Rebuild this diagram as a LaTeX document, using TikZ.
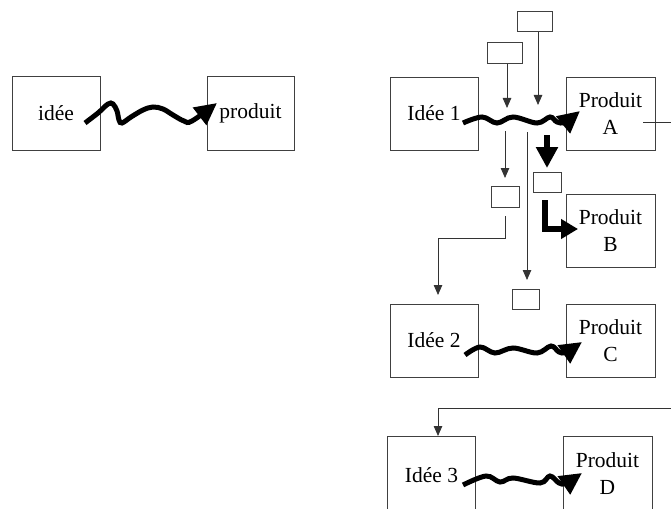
\documentclass[tikz,border=0pt]{standalone}
\usepackage{fontspec}
\setmainfont{Liberation Serif}
\usetikzlibrary{arrows.meta}
\begin{document}
\begin{tikzpicture}[x=1pt,y=-1pt,
  box/.style={draw=black!75, line width=0.9pt, inner sep=0pt, minimum width=88pt, minimum height=73pt, align=center, font=\fontsize{21.5}{27}\selectfont},
  tag/.style={draw=black!75, line width=0.9pt, inner sep=0pt, minimum width=#1, minimum height=20.5pt},
  thinarrow/.style={draw=black!80, line width=0.8pt, -{Triangle[length=10pt,width=8.5pt]}},
  wave/.style={line width=5pt, -{Triangle[length=22pt,width=21pt]}},
  fatarrow/.style={line width=6.5pt, -{Triangle[length=21pt,width=21pt]}},
]
\clip (0,0) rectangle (671,508);
\fill[white] (0,0) rectangle (671,508);

% left pair
\node[box, minimum height=74pt] (idee) at (56,113) {idée};
\node[box, minimum width=87pt, minimum height=74pt] (produit) at (250.5,113) {produit};

% right column
\node[box] (idee1) at (434,113.5) {Idée 1};
\node[box, minimum width=89pt] (pA) at (610.5,113.5) {Produit\\A};
\node[box, minimum width=89pt] (pB) at (610.5,230.5) {Produit\\B};
\node[box] (idee2) at (434,340.5) {Idée 2};
\node[box, minimum width=89pt] (pC) at (610.5,340.5) {Produit\\C};
\node[box, minimum height=78pt] (idee3) at (431.5,475) {Idée 3};
\node[box, minimum width=89pt, minimum height=76pt] (pD) at (607.5,474) {Produit\\D};

% small boxes
\node[tag=35pt] (s1) at (534.5,21.5) {};
\node[tag=35pt] (s2) at (504.5,53) {};
\node[tag=28pt] (s3) at (505,197) {};
\node[tag=27pt] (s4) at (525.5,299.5) {};
\node[tag=28pt] (s5) at (547,182.5) {};

% free ends
\coordinate (t1) at (538,105);
\coordinate (t2) at (507,108);
\coordinate (t3a) at (505,131);
\coordinate (t3) at (505,178);
\coordinate (t4a) at (527,132);
\coordinate (t4) at (527,280);
\coordinate (t5a) at (547,135);
\coordinate (t5) at (547,168);
\coordinate (u1) at (505,216);
\coordinate (u2) at (438,238);
\coordinate (u3) at (438,295);
\coordinate (a1) at (643,122);
\coordinate (a2) at (690,408);
\coordinate (a3) at (438,436);
\coordinate (l1) at (545,200);
\coordinate (l2) at (578,229);

% thin arrows
\draw[thinarrow] (s1.south -| t1) -- (t1);
\draw[thinarrow] (s2.south -| t2) -- (t2);
\draw[thinarrow] (t3a) -- (t3);
\draw[thinarrow] (t4a) -- (t4);
\draw[thinarrow] (u1) |- (u2) -- (u3);
\draw[thinarrow] (a1) -| (a2) -| (a3);

% thick arrows
\draw[fatarrow] (t5a) -- (t5);
\draw[line width=6pt, -{Triangle[length=17pt,width=19pt]}] (l1) |- (l2);

% waves
\draw[wave] plot[smooth, tension=0.6] coordinates {(85,123) (98,113) (108,104) (113,104) (117,111) (119,120) (122,123) (131,117) (143,110) (153,107) (163,109) (173,115) (184,121) (192,121) (217,103)};
\draw[wave] plot[smooth, tension=0.6] coordinates {(463,123) (482,117) (497,123) (513,117) (537,123) (550,117) (557,122) (565,122) (580,111)};
\draw[wave] plot[smooth, tension=0.6] coordinates {(465,355) (480,347) (495,353) (513,348) (537,353) (551,346) (559,352) (566,352) (582,342)};
\draw[wave] plot[smooth, tension=0.6] coordinates {(463,485) (486,476) (500,482) (513,478) (540,483) (550,476) (559,483) (566,483) (582,473)};
\end{tikzpicture}
\end{document}
